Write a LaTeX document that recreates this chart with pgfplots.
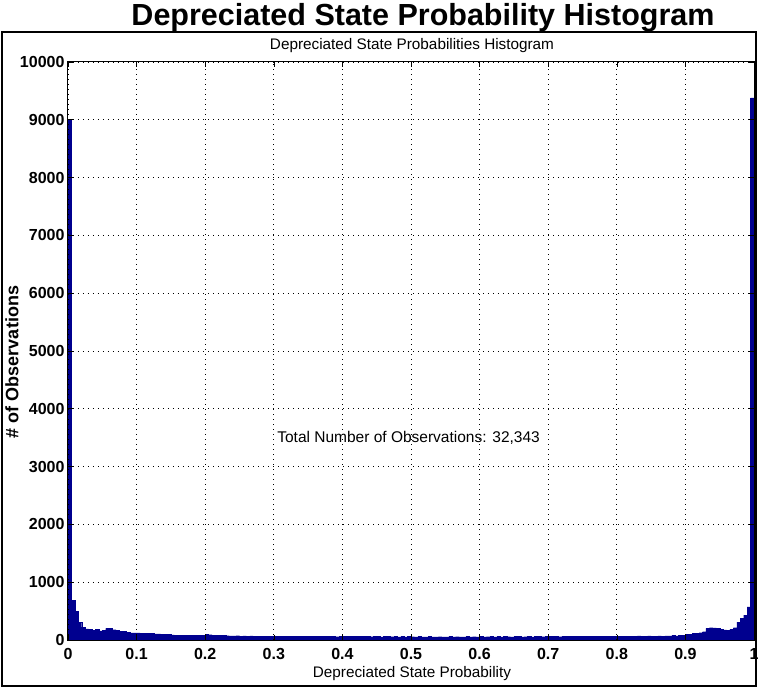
\documentclass[border=0pt]{standalone}
\usepackage{fontspec}
\setmainfont{Liberation Sans}
\usepackage{pgfplots}
\pgfplotsset{compat=1.18}
\definecolor{histblue}{RGB}{0,0,143}

\begin{document}
\begin{tikzpicture}
% page extent and outer frame
\path[use as bounding box] (-68bp,-48bp) rectangle (690bp,640bp);
\draw[line width=2.5bp] (-66bp,-46bp) rectangle (688bp,608bp);
\node[font=\fontsize{30.5bp}{34bp}\selectfont\bfseries] at (355bp,622bp)
  {Depreciated State Probability Histogram};
\node[font=\fontsize{15.3bp}{17bp}\selectfont] at (344bp,594bp)
  {Depreciated State Probabilities Histogram};
\node[font=\fontsize{15.3bp}{17bp}\selectfont] at (344bp,-34bp)
  {Depreciated State Probability};
\node[font=\fontsize{18bp}{20bp}\selectfont\bfseries, rotate=90] at (-56bp,278bp)
  {\# of Observations};

\begin{axis}[
  at={(0,0)}, anchor=south west,
  scale only axis, width=686bp, height=578bp,
  xmin=0, xmax=1, ymin=0, ymax=10000,
  xtick={0,0.1,0.2,0.3,0.4,0.5,0.6,0.7,0.8,0.9,1},
  ytick={0,1000,2000,3000,4000,5000,6000,7000,8000,9000,10000},
  scaled ticks=false,
  /pgf/number format/assume math mode=true,
  /pgf/number format/1000 sep={},
  xticklabel style={font=\fontsize{16bp}{18bp}\selectfont\bfseries, yshift=-5bp,
    /pgf/number format/fixed, /pgf/number format/precision=1},
  yticklabel style={font=\fontsize{16bp}{18bp}\selectfont\bfseries},
  tick align=inside, major tick length=5bp,
  tick style={black, line width=0.6bp},
  axis line style={black, line width=1bp},
  grid=major,
  major grid style={black, line width=0.7bp, dash pattern=on 0.8bp off 4.2bp},
  axis on top,
]
\addplot[ybar interval, fill=histblue, draw=histblue, line width=0.3bp] coordinates {
(0.000,9000) (0.005,683) (0.010,498) (0.015,308) (0.020,221) (0.025,194) (0.030,182) (0.035,172) (0.040,180) (0.045,160)
(0.050,165) (0.055,200) (0.060,205) (0.065,178) (0.070,170) (0.075,150) (0.080,145) (0.085,130) (0.090,125) (0.095,122)
(0.100,125) (0.105,118) (0.110,120) (0.115,112) (0.120,115) (0.125,108) (0.130,104) (0.135,100) (0.140,98) (0.145,96)
(0.150,90) (0.155,86) (0.160,84) (0.165,80) (0.170,82) (0.175,78) (0.180,76) (0.185,80) (0.190,78) (0.195,85)
(0.200,100) (0.205,92) (0.210,80) (0.215,78) (0.220,76) (0.225,82) (0.230,75) (0.235,72) (0.240,70) (0.245,74)
(0.250,68) (0.255,70) (0.260,66) (0.265,72) (0.270,64) (0.275,66) (0.280,68) (0.285,62) (0.290,65) (0.295,60)
(0.300,69) (0.305,65) (0.310,67) (0.315,63) (0.320,66) (0.325,62) (0.330,64) (0.335,68) (0.340,61) (0.345,63)
(0.350,60) (0.355,62) (0.360,65) (0.365,59) (0.370,61) (0.375,58) (0.380,60) (0.385,63) (0.390,57) (0.395,59)
(0.400,62) (0.405,60) (0.410,63) (0.415,59) (0.420,61) (0.425,58) (0.430,62) (0.435,60) (0.440,57) (0.445,59)
(0.450,61) (0.455,56) (0.460,58) (0.465,60) (0.470,57) (0.475,59) (0.480,55) (0.485,58) (0.490,56) (0.495,60)
(0.500,57) (0.505,55) (0.510,59) (0.515,56) (0.520,54) (0.525,58) (0.530,56) (0.535,55) (0.540,57) (0.545,54)
(0.550,56) (0.555,59) (0.560,55) (0.565,57) (0.570,54) (0.575,56) (0.580,58) (0.585,55) (0.590,57) (0.595,56)
(0.600,58) (0.605,55) (0.610,57) (0.615,60) (0.620,56) (0.625,58) (0.630,55) (0.635,59) (0.640,57) (0.645,56)
(0.650,60) (0.655,58) (0.660,55) (0.665,57) (0.670,59) (0.675,56) (0.680,58) (0.685,61) (0.690,57) (0.695,59)
(0.700,62) (0.705,58) (0.710,60) (0.715,57) (0.720,61) (0.725,59) (0.730,63) (0.735,58) (0.740,60) (0.745,62)
(0.750,59) (0.755,61) (0.760,65) (0.765,60) (0.770,62) (0.775,59) (0.780,64) (0.785,61) (0.790,63) (0.795,66)
(0.800,68) (0.805,63) (0.810,65) (0.815,62) (0.820,66) (0.825,64) (0.830,70) (0.835,65) (0.840,67) (0.845,72)
(0.850,66) (0.855,68) (0.860,71) (0.865,67) (0.870,70) (0.875,73) (0.880,76) (0.885,72) (0.890,78) (0.895,82)
(0.900,95) (0.905,100) (0.910,112) (0.915,118) (0.920,126) (0.925,144) (0.930,200) (0.935,212) (0.940,210) (0.945,198)
(0.950,190) (0.955,175) (0.960,172) (0.965,190) (0.970,213) (0.975,310) (0.980,370) (0.985,430) (0.990,575) (0.995,9380)
(1.000,0)
};
\node[anchor=west, font=\fontsize{15.5bp}{17bp}\selectfont] at (axis cs:0.3,3500)
  {Total Number of Observations: 32,343};
\end{axis}
\end{tikzpicture}
\end{document}
